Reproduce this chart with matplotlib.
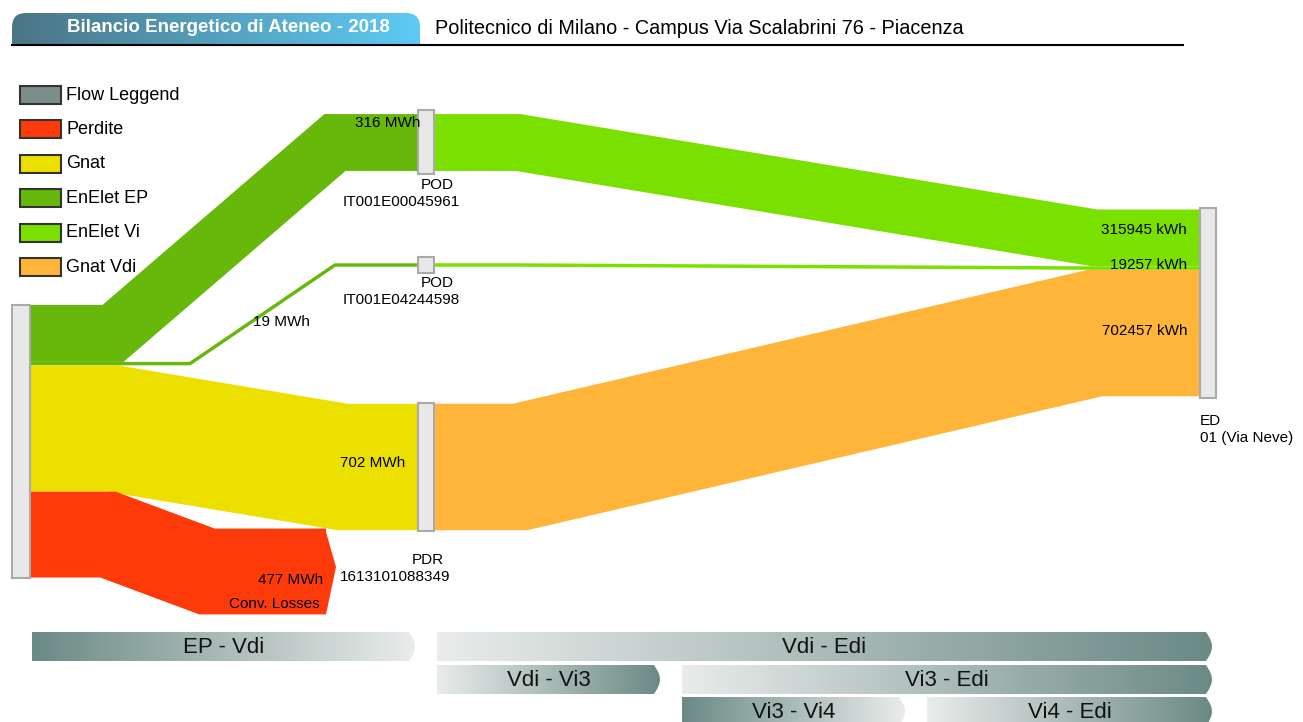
import numpy as np
import matplotlib.pyplot as plt
from matplotlib.patches import Rectangle, Polygon, FancyBboxPatch
from matplotlib.colors import LinearSegmentedColormap

# ---- data ----
# flows out of EP (MWh)
ep_flow_names = ['EnElet EP', 'EnElet EP', 'Gnat', 'Perdite']
ep_flow_mwh = [316, 19, 702, 477]
# flows into ED (kWh)
ed_flow_names = ['EnElet Vi', 'EnElet Vi', 'Gnat Vdi']
ed_flow_kwh = [315945, 19257, 702457]

node_names = ['POD', 'POD', 'PDR', 'ED']
node_ids = ['IT001E00045961', 'IT001E04244598', '1613101088349', '01 (Via Neve)']

legend_labels = ['Flow Leggend', 'Perdite', 'Gnat', 'EnElet EP', 'EnElet Vi', 'Gnat Vdi']
legend_colors = ['#7b8e8b', '#ff3a0a', '#ece000', '#66b80a', '#7ae000', '#ffb43a']
col = dict(zip(legend_labels, legend_colors))

bar_labels = ['EP - Vdi', 'Vdi - Edi', 'Vdi - Vi3', 'Vi3 - Edi', 'Vi3 - Vi4', 'Vi4 - Edi']

title = 'Bilancio Energetico di Ateneo - 2018'
subtitle = 'Politecnico di Milano - Campus Via Scalabrini 76 - Piacenza'

# ---- layout ----
S = 0.18            # px per MWh
PX2PT = 0.72        # linewidth px -> pt at dpi 100
sans = ['Liberation Sans', 'DejaVu Sans']
node_fc, node_ec = '#e8e8e8', '#aaaaaa'

fig = plt.figure(figsize=(13.03, 7.22), dpi=100)
ax = fig.add_axes([0, 0, 1, 1])
ax.axis('off')


def flow(xs, ys, mwh, color, z=2):
    ax.plot(xs, ys, color=color, lw=mwh * S * PX2PT, solid_joinstyle='miter',
            solid_capstyle='butt', zorder=z)


def node(x, top, h):
    ax.add_patch(Rectangle((x, top), 16, h, fc=node_fc, ec=node_ec, lw=1.5, zorder=5))


# stacking at the EP node (left)
ep_top = 305
thick = [v * S for v in ep_flow_mwh]
ep_c = [ep_top + sum(thick[:i]) + thick[i] / 2 for i in range(4)]
ax.add_patch(Rectangle((12, ep_top), 18, sum(thick), fc=node_fc, ec=node_ec, lw=1.5, zorder=5))

# stacking at the ED node (right)
ed_mwh = [v / 1000 for v in ed_flow_kwh]
ed_top = 209.5
ed_t = [v * S for v in ed_mwh]
ed_c = [ed_top + sum(ed_t[:i]) + ed_t[i] / 2 for i in range(3)]

pod1_c, pod2_c, pdr_c = 142.5, 265, 467

# stage 1 flows
flow([30, 113, 335, 420], [ep_c[0], ep_c[0], pod1_c, pod1_c], ep_flow_mwh[0], col['EnElet EP'])
flow([30, 190, 335, 420], [ep_c[1], ep_c[1], pod2_c, pod2_c], ep_flow_mwh[1], col['EnElet EP'])
flow([30, 112, 343, 420], [ep_c[2], ep_c[2], pdr_c, pdr_c], ep_flow_mwh[2], col['Gnat'])
flow([30, 108, 207, 326], [ep_c[3], ep_c[3], 571.5, 571.5], ep_flow_mwh[3], col['Perdite'])
red_h = ep_flow_mwh[3] * S
ax.add_patch(Polygon([(325, 571.5 - red_h / 2), (336, 567), (326, 571.5 + red_h / 2)],
                     closed=True, fc=col['Perdite'], ec='none', zorder=2))

# stage 2 flows
flow([432, 518, 1095, 1202], [pod1_c, pod1_c, ed_c[0], ed_c[0]], ed_mwh[0], col['EnElet Vi'])
flow([432, 518, 1095, 1202], [pod2_c, pod2_c, ed_c[1], ed_c[1]], ed_mwh[1], col['EnElet Vi'])
flow([432, 520, 1095, 1202], [pdr_c, pdr_c, ed_c[2], ed_c[2]], ed_mwh[2], col['Gnat Vdi'])

# nodes
node(418, 110, 64)
node(418, 257, 16)
node(418, 403, 128)
node(1200, 208, 190)

# flow labels
fs = 11
ax.text(420, 123, f'{ep_flow_mwh[0]} MWh', ha='right', va='center', fontsize=fs, family=sans, zorder=6)
ax.text(253, 322, f'{ep_flow_mwh[1]} MWh', ha='left', va='center', fontsize=fs, family=sans, zorder=6)
ax.text(405, 463, f'{ep_flow_mwh[2]} MWh', ha='right', va='center', fontsize=fs, family=sans, zorder=6)
ax.text(323, 580, f'{ep_flow_mwh[3]} MWh', ha='right', va='center', fontsize=fs, family=sans, zorder=6)
ax.text(320, 604, 'Conv. Losses', ha='right', va='center', fontsize=fs, family=sans, zorder=6)
for v, y in zip(ed_flow_kwh, [230, 265, 331]):
    ax.text(1187, y, f'{v} kWh', ha='right', va='center', fontsize=fs, family=sans, zorder=6)

# node labels
for name, nid, (xn, xi, y) in zip(node_names, node_ids,
                                  [(421, 460, 185), (421, 460, 283), (412, 450, 560), (1200, None, 421)]):
    ax.text(xn, y, name, ha='left', va='center', fontsize=fs, family=sans)
    if xi is None:
        ax.text(xn, y + 17, nid, ha='left', va='center', fontsize=fs, family=sans)
    else:
        ax.text(xi, y + 17, nid, ha='right', va='center', fontsize=fs, family=sans)

# legend
for i, (lab, c) in enumerate(zip(legend_labels, legend_colors)):
    y = 95 + i * 34.4
    ax.add_patch(Rectangle((20, y - 9), 41, 18, fc=c, ec='#333333', lw=1.5))
    ax.text(66, y, lab, ha='left', va='center', fontsize=13, family=sans)

# title tab
tab = FancyBboxPatch((12, 13), 408, 48, boxstyle='round,pad=0,rounding_size=14',
                     fc='none', ec='none')
ax.add_patch(tab)
tab_cmap = LinearSegmentedColormap.from_list('tab', ['#4b7585', '#5ecbf5'])
im = ax.imshow(np.linspace(0, 1, 256).reshape(1, -1), cmap=tab_cmap, aspect='auto',
               extent=(12, 420, 61, 13), zorder=1)
im.set_clip_path(tab)
ax.add_patch(Rectangle((0, 45), 600, 20, fc='white', ec='none', zorder=1.5))
ax.plot([12, 1183], [45, 45], color='black', lw=1.5, zorder=3)
ax.text(228, 28, title, ha='center', va='center', color='white', fontsize=13.5,
        weight='bold', family=sans)
ax.text(435, 28, subtitle, ha='left', va='center', color='black', fontsize=14.3, family=sans)

# bottom gradient bars
dark, light = '#6b8a85', '#e9eceb'
bar_layout = [(32, 415, 632, 'dl'), (437, 1212, 632, 'ld'), (437, 660, 665, 'ld'),
              (682, 1212, 665, 'ld'), (682, 905, 697, 'dl'), (927, 1212, 697, 'ld')]
for lab, (x0, x1, y0, d) in zip(bar_labels, bar_layout):
    y1 = y0 + 29
    t = np.linspace(-1, 1, 15)
    arc = [(x1 - 6 + 6 * np.cos(a * np.pi / 2), (y0 + y1) / 2 + a * (y1 - y0) / 2) for a in t]
    pts = [(x0, y0), (x1 - 6, y0)] + arc + [(x1 - 6, y1), (x0, y1)]
    poly = Polygon(pts, closed=True, fc='none', ec='none')
    ax.add_patch(poly)
    cm = LinearSegmentedColormap.from_list('b', [dark, light] if d == 'dl' else [light, dark])
    im = ax.imshow(np.linspace(0, 1, 256).reshape(1, -1), cmap=cm, aspect='auto',
                   extent=(x0, x1, y1, y0), zorder=1)
    im.set_clip_path(poly)
    ax.text((x0 + x1) / 2, (y0 + y1) / 2 + 1, lab, ha='center', va='center',
            fontsize=16, family=sans, color='#111111')

ax.set_xlim(0, 1303)
ax.set_ylim(722, 0)
fig.savefig('out.png', dpi=100)
